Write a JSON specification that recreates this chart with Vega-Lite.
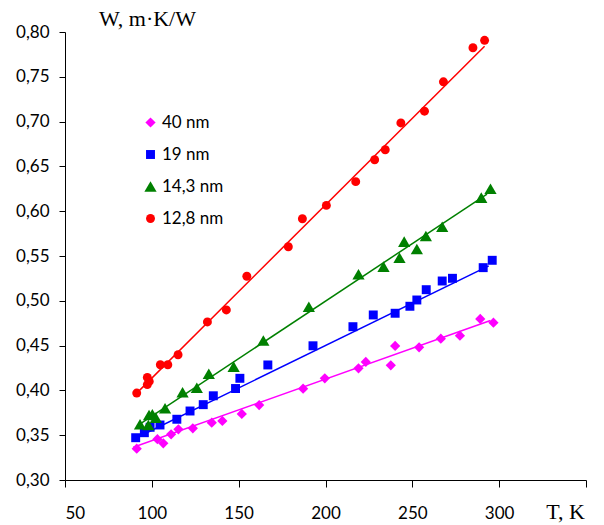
{
  "$schema": "https://vega.github.io/schema/vega-lite/v6.json",
  "width": 521,
  "height": 448,
  "autosize": {"type": "none"},
  "padding": {"left": 65, "top": 32, "right": 18, "bottom": 45},
  "background": "white",
  "config": {
    "view": {"stroke": null},
    "axis": {"grid": false, "domainColor": "#000000", "tickColor": "#000000", "labelColor": "#000000", "labelFont": "Lato", "labelFontSize": 17, "titleFont": "Liberation Serif", "titleFontSize": 22, "titleFontWeight": "normal", "titleColor": "#000000"}
  },
  "datasets": {
    "points": [
      {"series": "40 nm", "T": 91.3, "W": 0.335},
      {"series": "40 nm", "T": 103.2, "W": 0.3455},
      {"series": "40 nm", "T": 106.6, "W": 0.341},
      {"series": "40 nm", "T": 111.1, "W": 0.351},
      {"series": "40 nm", "T": 115.3, "W": 0.3566},
      {"series": "40 nm", "T": 123.6, "W": 0.3577},
      {"series": "40 nm", "T": 134.5, "W": 0.364},
      {"series": "40 nm", "T": 140.6, "W": 0.3659},
      {"series": "40 nm", "T": 151.8, "W": 0.3737},
      {"series": "40 nm", "T": 161.8, "W": 0.3837},
      {"series": "40 nm", "T": 187.1, "W": 0.4019},
      {"series": "40 nm", "T": 199.6, "W": 0.4135},
      {"series": "40 nm", "T": 219.0, "W": 0.4247},
      {"series": "40 nm", "T": 223.2, "W": 0.4317},
      {"series": "40 nm", "T": 237.6, "W": 0.428},
      {"series": "40 nm", "T": 240.1, "W": 0.4496},
      {"series": "40 nm", "T": 253.9, "W": 0.4481},
      {"series": "40 nm", "T": 266.4, "W": 0.4577},
      {"series": "40 nm", "T": 277.4, "W": 0.4611},
      {"series": "40 nm", "T": 289.1, "W": 0.4797},
      {"series": "40 nm", "T": 296.7, "W": 0.4756},
      {"series": "19 nm", "T": 90.7, "W": 0.3472},
      {"series": "19 nm", "T": 95.7, "W": 0.3528},
      {"series": "19 nm", "T": 99.0, "W": 0.3588},
      {"series": "19 nm", "T": 104.7, "W": 0.3614},
      {"series": "19 nm", "T": 114.4, "W": 0.3678},
      {"series": "19 nm", "T": 122.0, "W": 0.377},
      {"series": "19 nm", "T": 129.6, "W": 0.3841},
      {"series": "19 nm", "T": 135.4, "W": 0.394},
      {"series": "19 nm", "T": 148.2, "W": 0.4021},
      {"series": "19 nm", "T": 150.7, "W": 0.4135},
      {"series": "19 nm", "T": 166.8, "W": 0.4284},
      {"series": "19 nm", "T": 192.8, "W": 0.4498},
      {"series": "19 nm", "T": 215.8, "W": 0.4711},
      {"series": "19 nm", "T": 227.5, "W": 0.4842},
      {"series": "19 nm", "T": 240.1, "W": 0.4861},
      {"series": "19 nm", "T": 248.6, "W": 0.4939},
      {"series": "19 nm", "T": 252.6, "W": 0.5009},
      {"series": "19 nm", "T": 258.0, "W": 0.5124},
      {"series": "19 nm", "T": 267.2, "W": 0.5221},
      {"series": "19 nm", "T": 273.1, "W": 0.5251},
      {"series": "19 nm", "T": 290.8, "W": 0.537},
      {"series": "19 nm", "T": 296.0, "W": 0.5452},
      {"series": "14,3 nm", "T": 93.2, "W": 0.3622},
      {"series": "14,3 nm", "T": 98.0, "W": 0.3614},
      {"series": "14,3 nm", "T": 98.4, "W": 0.3726},
      {"series": "14,3 nm", "T": 100.3, "W": 0.3734},
      {"series": "14,3 nm", "T": 102.3, "W": 0.3696},
      {"series": "14,3 nm", "T": 107.6, "W": 0.38},
      {"series": "14,3 nm", "T": 117.7, "W": 0.398},
      {"series": "14,3 nm", "T": 125.9, "W": 0.403},
      {"series": "14,3 nm", "T": 132.8, "W": 0.4186},
      {"series": "14,3 nm", "T": 147.1, "W": 0.4265},
      {"series": "14,3 nm", "T": 164.2, "W": 0.4557},
      {"series": "14,3 nm", "T": 190.4, "W": 0.4934},
      {"series": "14,3 nm", "T": 219.0, "W": 0.5296},
      {"series": "14,3 nm", "T": 233.4, "W": 0.5381},
      {"series": "14,3 nm", "T": 242.6, "W": 0.5481},
      {"series": "14,3 nm", "T": 245.3, "W": 0.566},
      {"series": "14,3 nm", "T": 252.6, "W": 0.5578},
      {"series": "14,3 nm", "T": 257.8, "W": 0.5723},
      {"series": "14,3 nm", "T": 267.2, "W": 0.5827},
      {"series": "14,3 nm", "T": 289.7, "W": 0.6151},
      {"series": "14,3 nm", "T": 295.0, "W": 0.6251},
      {"series": "12,8 nm", "T": 91.3, "W": 0.397},
      {"series": "12,8 nm", "T": 97.4, "W": 0.4145},
      {"series": "12,8 nm", "T": 98.5, "W": 0.41},
      {"series": "12,8 nm", "T": 97.4, "W": 0.4065},
      {"series": "12,8 nm", "T": 104.9, "W": 0.4286},
      {"series": "12,8 nm", "T": 109.2, "W": 0.4286},
      {"series": "12,8 nm", "T": 115.1, "W": 0.4398},
      {"series": "12,8 nm", "T": 132.0, "W": 0.4764},
      {"series": "12,8 nm", "T": 142.9, "W": 0.4898},
      {"series": "12,8 nm", "T": 154.7, "W": 0.5274},
      {"series": "12,8 nm", "T": 178.6, "W": 0.5603},
      {"series": "12,8 nm", "T": 186.7, "W": 0.5916},
      {"series": "12,8 nm", "T": 200.5, "W": 0.6065},
      {"series": "12,8 nm", "T": 217.4, "W": 0.633},
      {"series": "12,8 nm", "T": 228.3, "W": 0.6574},
      {"series": "12,8 nm", "T": 234.4, "W": 0.6686},
      {"series": "12,8 nm", "T": 243.4, "W": 0.6985},
      {"series": "12,8 nm", "T": 257.0, "W": 0.7116},
      {"series": "12,8 nm", "T": 267.9, "W": 0.7444},
      {"series": "12,8 nm", "T": 284.9, "W": 0.7824},
      {"series": "12,8 nm", "T": 291.6, "W": 0.7907}
    ],
    "fits": [
      {"series": "40 nm", "T": 89.3, "W": 0.3365},
      {"series": "40 nm", "T": 295.0, "W": 0.478},
      {"series": "19 nm", "T": 90.0, "W": 0.346},
      {"series": "19 nm", "T": 294.0, "W": 0.539},
      {"series": "14,3 nm", "T": 92.0, "W": 0.361},
      {"series": "14,3 nm", "T": 293.0, "W": 0.619},
      {"series": "12,8 nm", "T": 90.3, "W": 0.395},
      {"series": "12,8 nm", "T": 291.6, "W": 0.784}
    ]
  },
  "layer": [
    {
      "data": {"name": "fits"},
      "transform": [{"filter": "datum.series == '40 nm'"}],
      "mark": {"type": "line", "strokeWidth": 1.5, "color": "#FF00FF"},
      "encoding": {"x": {"field": "T", "type": "quantitative"}, "y": {"field": "W", "type": "quantitative"}}
    },
    {
      "data": {"name": "fits"},
      "transform": [{"filter": "datum.series == '19 nm'"}],
      "mark": {"type": "line", "strokeWidth": 1.5, "color": "#0000FF"},
      "encoding": {"x": {"field": "T", "type": "quantitative"}, "y": {"field": "W", "type": "quantitative"}}
    },
    {
      "data": {"name": "fits"},
      "transform": [{"filter": "datum.series == '14,3 nm'"}],
      "mark": {"type": "line", "strokeWidth": 1.5, "color": "#008000"},
      "encoding": {"x": {"field": "T", "type": "quantitative"}, "y": {"field": "W", "type": "quantitative"}}
    },
    {
      "data": {"name": "fits"},
      "transform": [{"filter": "datum.series == '12,8 nm'"}],
      "mark": {"type": "line", "strokeWidth": 1.5, "color": "#FF0000"},
      "encoding": {"x": {"field": "T", "type": "quantitative"}, "y": {"field": "W", "type": "quantitative"}}
    },
    {
      "data": {"name": "points"},
      "mark": {"type": "point", "filled": true, "opacity": 1, "strokeWidth": 0},
      "encoding": {
        "x": {
          "field": "T", "type": "quantitative",
          "scale": {"domain": [50, 350], "nice": false, "zero": false},
          "axis": {"values": [50, 100, 150, 200, 250, 300, 350], "labelExpr": "datum.value == 350 ? '' : datum.label", "tickSize": 7, "labelPadding": 18, "title": "T, K", "titleX": 500, "titleY": 38, "titleAlign": "center", "titleBaseline": "alphabetic", "titleAnchor": null}
        },
        "y": {
          "field": "W", "type": "quantitative",
          "scale": {"domain": [0.3, 0.8], "nice": false, "zero": false},
          "axis": {"values": [0.3, 0.35, 0.4, 0.45, 0.5, 0.55, 0.6, 0.65, 0.7, 0.75, 0.8], "labelExpr": "replace(format(datum.value, '.2f'), '.', ',')", "tickSize": 6, "labelPadding": 10, "title": "W, m·K/W", "titleAngle": 0, "titleX": 82, "titleY": -7, "titleAlign": "center", "titleBaseline": "alphabetic", "titleAnchor": null}
        },
        "color": {
          "field": "series", "type": "nominal",
          "scale": {"domain": ["40 nm", "19 nm", "14,3 nm", "12,8 nm"], "range": ["#FF00FF", "#0000FF", "#008000", "#FF0000"]},
          "legend": {"title": null, "orient": "none", "legendX": 77, "legendY": 82, "padding": 0, "labelFont": "Lato", "labelFontSize": 17, "labelColor": "#000000", "labelOffset": 3, "rowPadding": 14, "symbolStrokeWidth": 0, "symbolOpacity": 1}
        },
        "shape": {
          "field": "series", "type": "nominal",
          "scale": {"domain": ["40 nm", "19 nm", "14,3 nm", "12,8 nm"], "range": ["diamond", "square", "triangle-up", "circle"]},
          "legend": {"title": null, "orient": "none", "legendX": 77, "legendY": 82, "padding": 0, "labelFont": "Lato", "labelFontSize": 17, "labelColor": "#000000", "labelOffset": 3, "rowPadding": 14, "symbolStrokeWidth": 0, "symbolOpacity": 1}
        },
        "size": {
          "field": "series", "type": "nominal",
          "scale": {"type": "ordinal", "domain": ["40 nm", "19 nm", "14,3 nm", "12,8 nm"], "range": [105, 80, 150, 80]},
          "legend": null
        }
      }
    }
  ]
}
